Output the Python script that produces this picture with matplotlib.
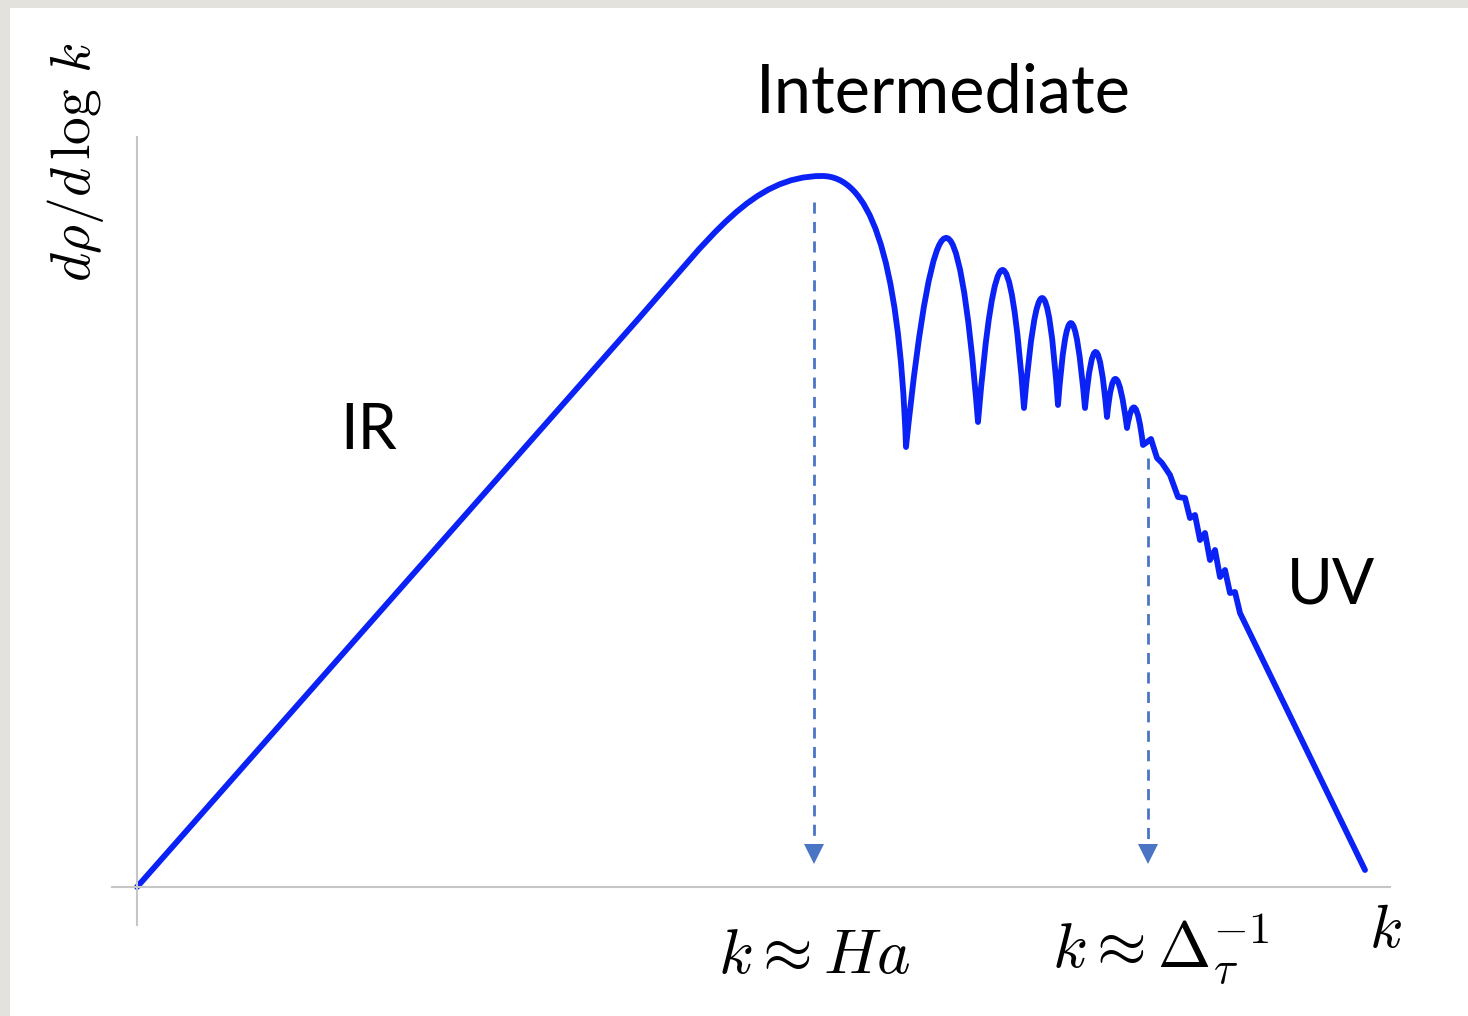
import numpy as np
import matplotlib.pyplot as plt
from matplotlib.path import Path
from matplotlib.patches import PathPatch, Rectangle

plt.rcParams['mathtext.fontset'] = 'cm'

# IR rise: straight part, main peak, first dip  (k, d rho / d log k)
rise_k = [0.00, 5.03, 6.85, 7.69]
rise_y = [0.00, 5.70, 7.11, 4.40]

# intermediate oscillations: dips and the crests between them
dip_k = [7.69, 8.41, 8.87, 9.21, 9.48, 9.70, 9.90, 10.06]
dip_y = [4.40, 4.65, 4.79, 4.82, 4.79, 4.70, 4.59, 4.42]
crest_k = [8.08, 8.65, 9.05, 9.34, 9.59, 9.79, 9.98]
crest_y = [6.49, 6.17, 5.89, 5.64, 5.35, 5.08, 4.79]

# damped wiggles then the UV fall-off
tail_k = [10.14, 10.20, 10.25, 10.33, 10.41, 10.48, 10.53, 10.58, 10.63, 10.68,
          10.73, 10.78, 10.83, 10.88, 10.93, 10.98, 11.03, 12.28]
tail_y = [4.48, 4.29, 4.24, 4.12, 3.90, 3.89, 3.69, 3.72, 3.47, 3.54,
          3.27, 3.37, 3.10, 3.17, 2.94, 2.95, 2.74, 0.17]

# scale markers
k_Ha = 6.77
k_Delta = 10.11
arrow_top = [6.85, 4.29]

blue = '#0a22f5'
guide = '#4a74c4'

fig = plt.figure(figsize=(14.68, 10.16), dpi=100, facecolor='#e3e2dd')
fig.patches.append(Rectangle((10 / 1468, 0), 1, 1008 / 1016, transform=fig.transFigure,
                             facecolor='white', edgecolor='none', zorder=-10))
ax = fig.add_axes([0, 0, 1, 1])
ax.set_xlim(-1.37, 13.31)
ax.set_ylim(-1.29, 8.87)
ax.axis('off')

# axes lines
ax.plot([0, 0], [-0.38, 7.50], color='#c6c6c6', lw=1.5)
ax.plot([-0.25, 12.53], [0, 0], color='#c6c6c6', lw=1.5)

# straight IR rise
verts = [(rise_k[0], rise_y[0]), (rise_k[1], rise_y[1])]
codes = [Path.MOVETO, Path.LINETO]

# round over the peak: leave the line along its own slope, arrive flat
slope = (rise_y[1] - rise_y[0]) / (rise_k[1] - rise_k[0])
verts += [(rise_k[1] + 0.7, rise_y[1] + 0.7 * slope),
          (rise_k[2] - 0.7, rise_y[2]),
          (rise_k[2], rise_y[2])]
codes += [Path.CURVE4] * 3

# leave the peak flat, plunge steeply into the first dip
verts += [(rise_k[2] + 0.45, rise_y[2]),
          (rise_k[3] - 0.07, rise_y[3] + 2.0),
          (rise_k[3], rise_y[3])]
codes += [Path.CURVE4] * 3

# one arch per oscillation, peaking at the crest
for i in range(len(crest_k)):
    x0, y0 = dip_k[i], dip_y[i]
    x2, y2 = dip_k[i + 1], dip_y[i + 1]
    cx = 2 * crest_k[i] - (x0 + x2) / 2
    cy = 2 * crest_y[i] - (y0 + y2) / 2
    verts += [(cx, cy), (x2, y2)]
    codes += [Path.CURVE3, Path.CURVE3]

for x, y in zip(tail_k, tail_y):
    verts.append((x, y))
    codes.append(Path.LINETO)

ax.add_patch(PathPatch(Path(verts, codes), fill=False, edgecolor=blue, lw=4.2,
                       capstyle='round', joinstyle='round'))

# dashed arrows down to the k axis
for kx, top in zip([k_Ha, k_Delta], arrow_top):
    ax.plot([kx, kx], [top, 0.42], color=guide, lw=2, linestyle=(0, (4, 3)))
    ax.plot(kx, 0.33, marker='v', markersize=14, color=guide, markeredgewidth=0)

# region labels
ax.text(8.06, 7.94, 'Intermediate', fontsize=48, family='Lato', ha='center', va='center')
ax.text(2.32, 4.56, 'IR', fontsize=45, family='Lato', ha='center', va='center')
ax.text(11.94, 3.01, 'UV', fontsize=45, family='Lato', ha='center', va='center')

# axis labels
ax.text(k_Ha, -0.68, r'$k \approx Ha$', fontsize=46, ha='center', va='center')
ax.text(k_Delta + 0.12, -0.63, r'$k \approx \Delta_\tau^{-1}$', fontsize=46, ha='center', va='center')
ax.text(12.48, -0.43, r'$k$', fontsize=44, ha='center', va='center')
ax.text(-0.62, 7.25, r'$d\rho/d\,\log\,k$', fontsize=40, rotation=90, ha='center', va='center')

fig.savefig('out.png', dpi=100, facecolor=fig.get_facecolor())
